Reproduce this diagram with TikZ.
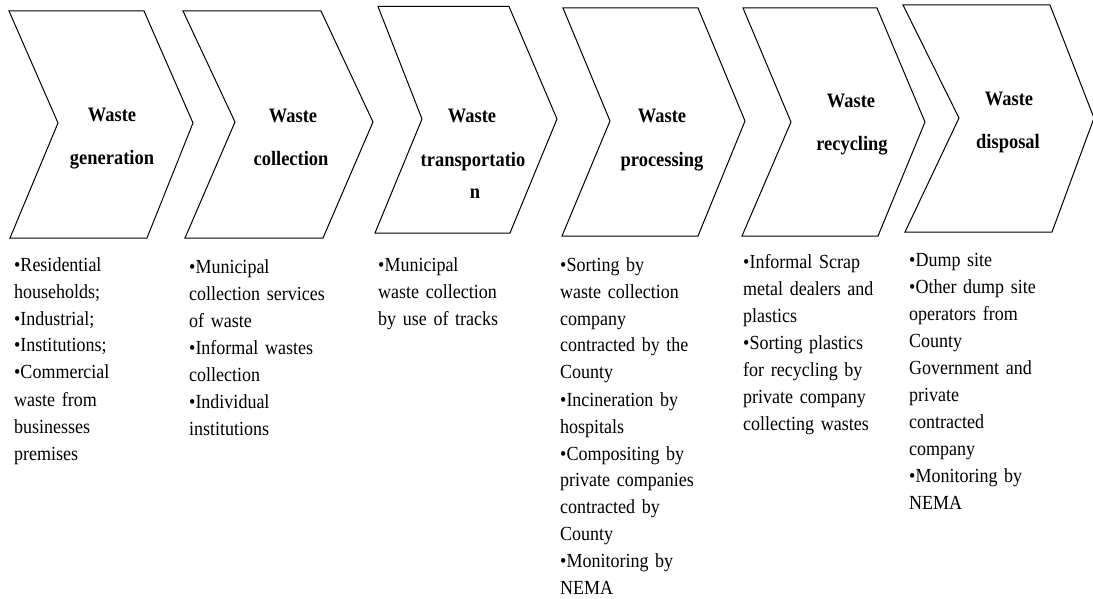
\documentclass[tikz,border=0pt]{standalone}
\usepackage{fontspec}
\setmainfont{Liberation Serif}[FakeStretch=0.9]
\newcommand{\jw}[2]{\makebox[#1pt][s]{#2}}
\begin{document}
\begin{tikzpicture}[x=1pt,y=-1pt,
  chev/.style={draw=black,line width=1pt,line join=miter},
  ttl/.style={font=\fontsize{20.5}{22}\selectfont\bfseries,inner sep=0pt,anchor=base},
  col/.style={font=\fontsize{20}{27}\selectfont,inner sep=0pt,anchor=base west,text width=150pt,align=left}]
\useasboundingbox (0,0) rectangle (1093,599);
% chevrons
\draw[chev] (9,11) -- (144,11) -- (193,123) -- (147,238) -- (10,238) -- (58,123) -- cycle;
\draw[chev] (183,11) -- (321,11) -- (373,122) -- (323,238) -- (185,238) -- (235,122) -- cycle;
\draw[chev] (378,6.5) -- (509,6.5) -- (557,119) -- (510,233) -- (375,233) -- (422,119) -- cycle;
\draw[chev] (563,8) -- (698,8) -- (745,121) -- (698,236) -- (562,236) -- (610,121) -- cycle;
\draw[chev] (743,8) -- (877,8) -- (925,122) -- (878,236) -- (742,236) -- (791,122) -- cycle;
\draw[chev] (903,5) -- (1050,5) -- (1094,118) -- (1052,232) -- (905,232) -- (959,118) -- cycle;
% titles
\node[ttl] (t1a) at (112,122) {Waste};
\node[ttl] (t1b) at (112,165) {generation};
\node[ttl] (t2a) at (293,123) {Waste};
\node[ttl] (t2b) at (291,166) {collection};
\node[ttl] (t3a) at (472,123) {Waste};
\node[ttl] (t3b) at (473,167) {transportatio};
\node[ttl] (t3c) at (475,198) {n};
\node[ttl] (t4a) at (662,123) {Waste};
\node[ttl] (t4b) at (662,167) {processing};
\node[ttl] (t5a) at (851,108) {Waste};
\node[ttl] (t5b) at (852,151) {recycling};
\node[ttl] (t6a) at (1009,106) {Waste};
\node[ttl] (t6b) at (1008,149) {disposal};
% columns
\node[col] (c1) at (14,271) {•Residential\\households;\\•Industrial;\\•Institutions;\\•Commercial\\\jw{86}{waste from}\\businesses\\premises};
\node[col] (c2) at (189,273.5) {•Municipal\\\jw{137}{collection services}\\of waste\\\jw{128}{•Informal wastes}\\collection\\•Individual\\institutions};
\node[col] (c3) at (378,271) {•Municipal\\\jw{119}{waste collection}\\\jw{124}{by use of tracks}};
\node[col] (c4) at (560,271) {\jw{92}{•Sorting by}\\\jw{128}{waste collection}\\company\\\jw{133}{contracted by the}\\County\\\jw{125}{•Incineration by}\\hospitals\\\jw{130}{•Compositing by}\\\jw{134}{private companies}\\\jw{103}{contracted by}\\County\\\jw{118}{•Monitoring by}\\NEMA};
\node[col] (c5) at (743,268.5) {\jw{122}{•Informal Scrap}\\\jw{131}{metal dealers and}\\plastics\\\jw{121}{•Sorting plastics}\\\jw{120}{for recycling by}\\\jw{124}{private company}\\\jw{129}{collecting wastes}};
\node[col] (c6) at (909,266.5) {•Dump site\\\jw{127}{•Other dump site}\\\jw{111}{operators from}\\County\\\jw{126}{Government and}\\private\\contracted\\company\\\jw{119}{•Monitoring by}\\NEMA};
\end{tikzpicture}
\end{document}
